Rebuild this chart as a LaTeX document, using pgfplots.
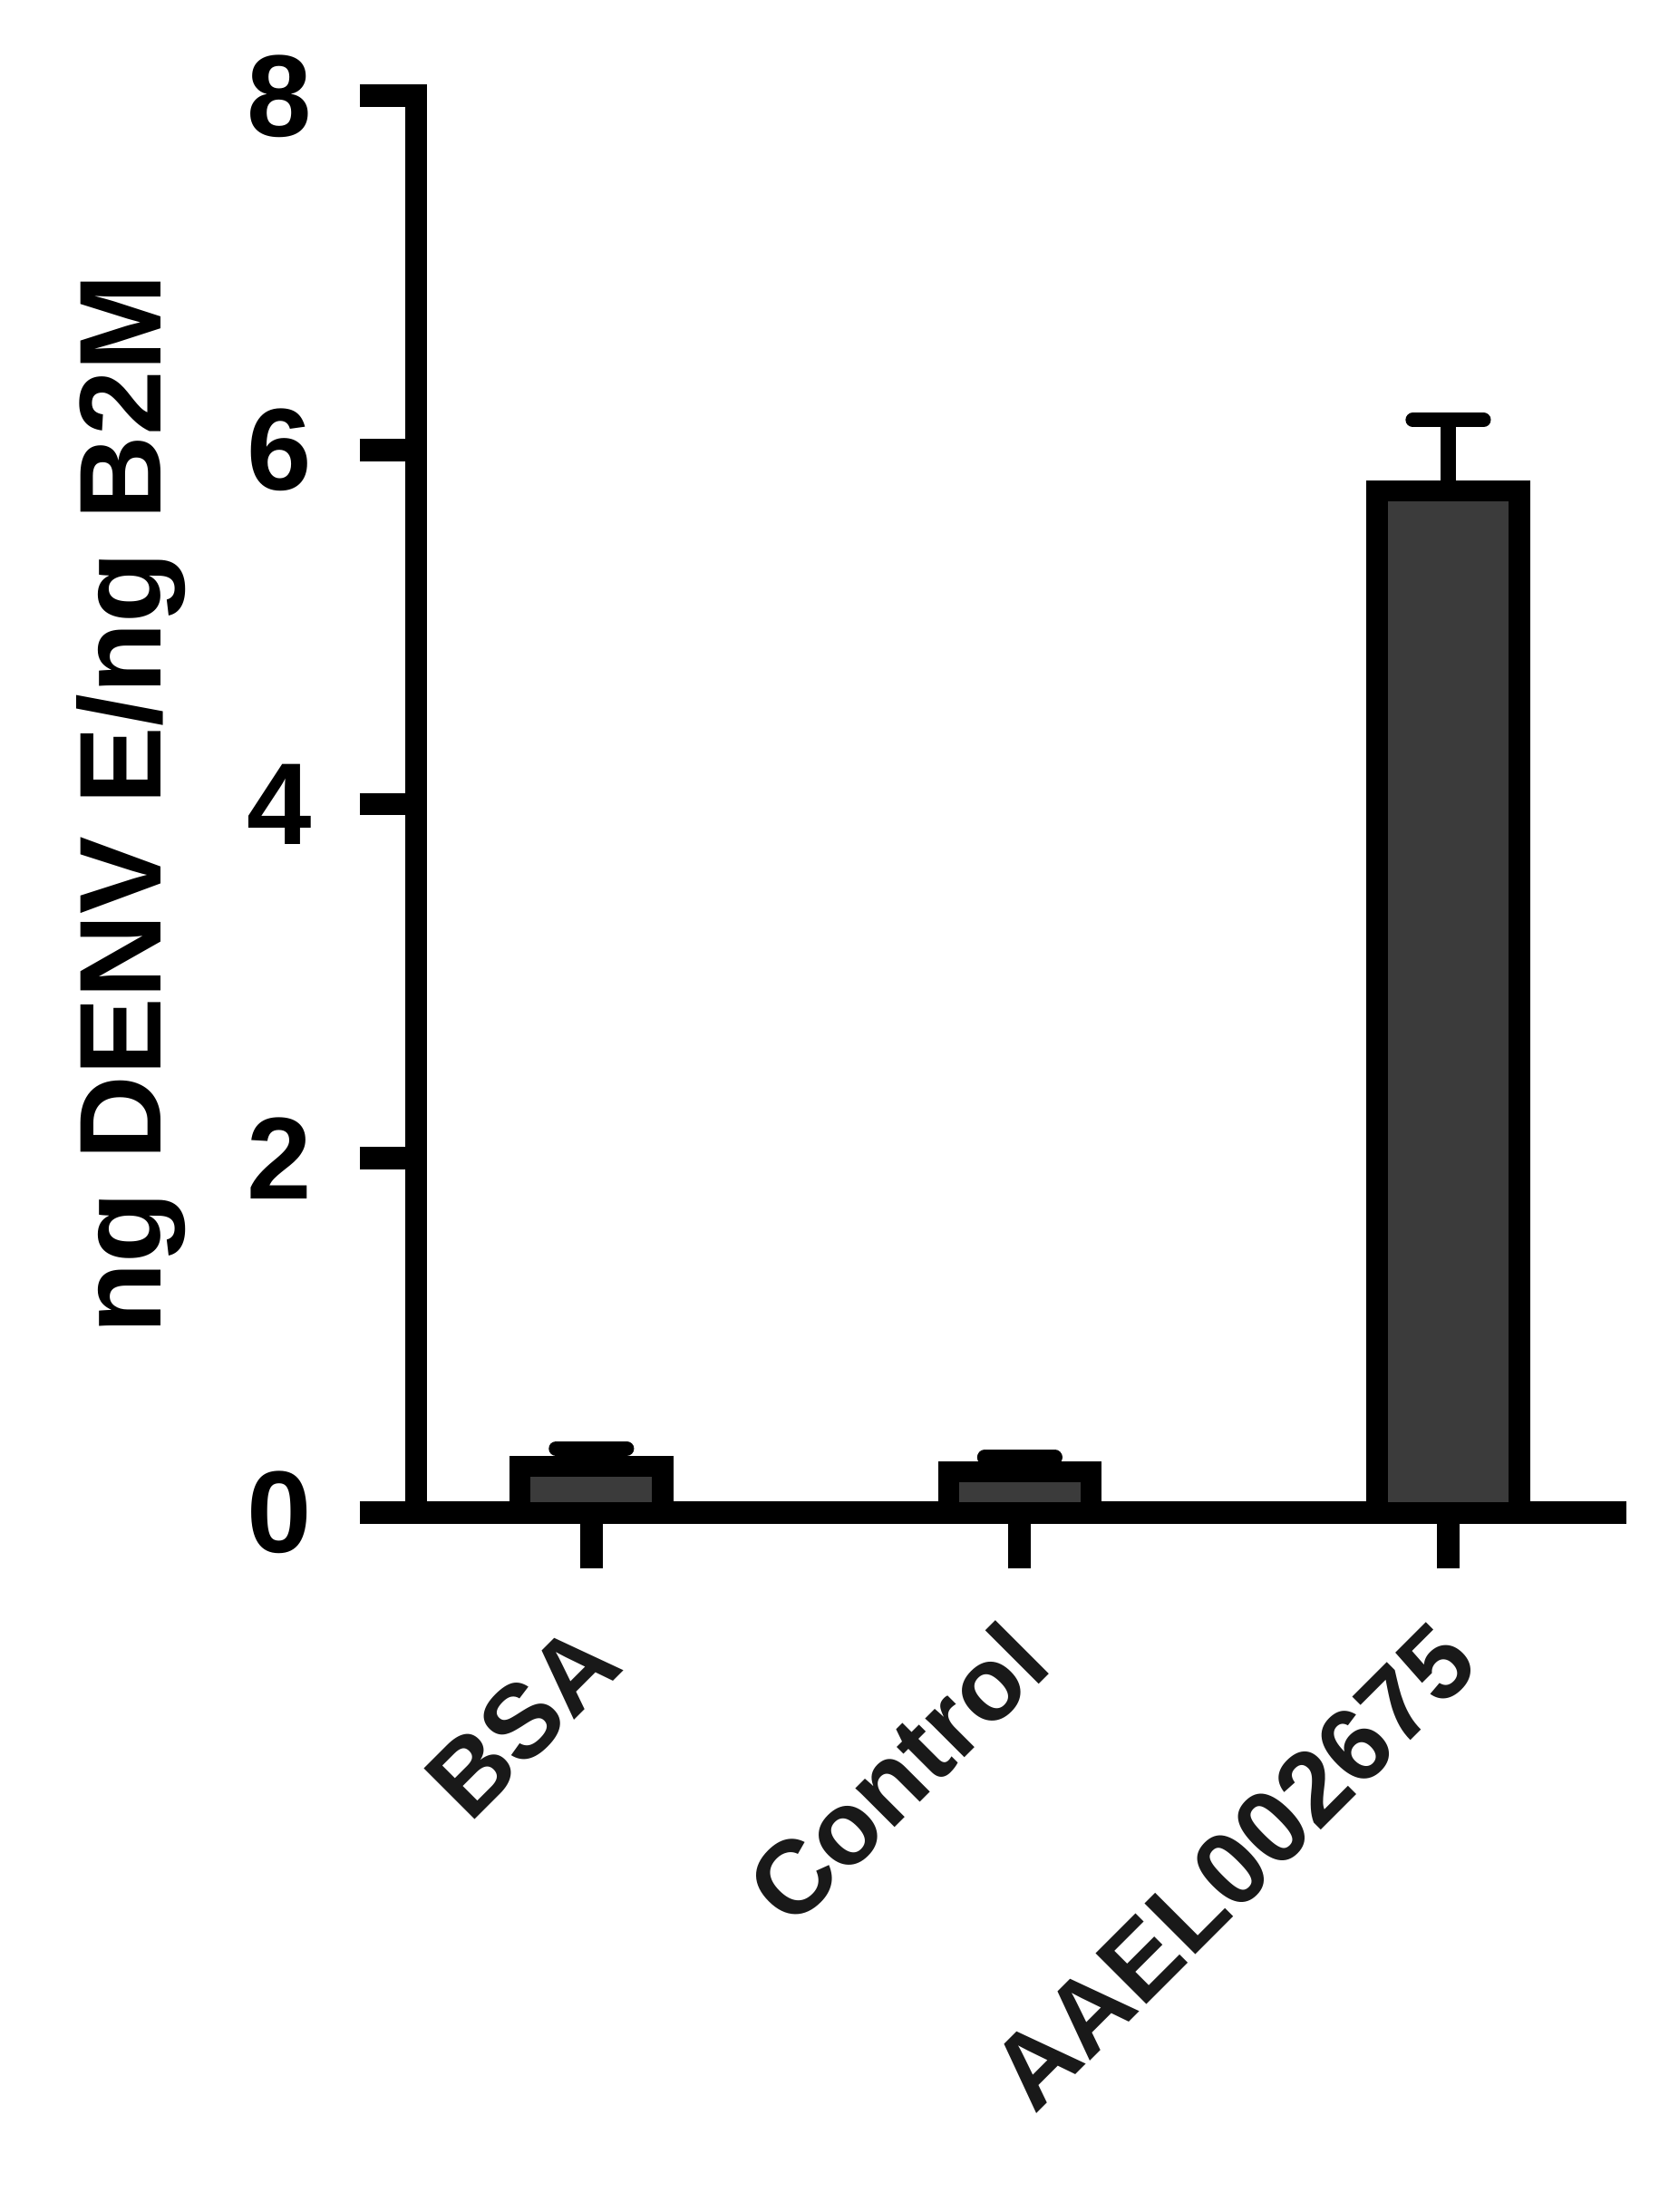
\documentclass[border=0pt]{standalone}
\usepackage{fontspec}
\setmainfont{Liberation Sans}
\usepackage{pgfplots}
\pgfplotsset{compat=1.18}

\begin{document}
\begin{tikzpicture}
\useasboundingbox (-59pt,-99.2pt) rectangle (177.6pt,214.4pt);
\begin{axis}[
  at={(0,0)},anchor=south west,
  scale only axis,width=170pt,height=200.8pt,
  xmin=-0.409,xmax=2.39,ymin=0,ymax=8,
  axis x line=bottom,axis y line=left,
  axis line style={-,line width=3.2pt,line cap=rect},
  tick align=outside,major tick length=8pt,
  major tick style={black,line width=3.2pt},
  xtick={0,1,2},xticklabels={BSA,Control,AAEL002675},
  ytick={0,2,4,6,8},
  yticklabel style={font=\fontsize{16.5}{18}\selectfont\bfseries,inner sep=0pt,xshift=-6.6pt},
  /pgf/number format/assume math mode=true,
  xticklabel style={font=\fontsize{14.8}{17}\selectfont\bfseries,
    xshift=5pt,yshift=-14pt,rotate=45,anchor=base east,inner sep=0pt,text=black!90},
  ylabel={ng DENV E/ng B2M},
  ylabel style={font=\fontsize{16.5}{18}\selectfont\bfseries,
    at={(axis description cs:-0.213,0.5)},anchor=base,inner sep=0pt},
  clip=false
]
\addplot[ybar,bar width=20.2pt,fill=black!77,draw=black,line width=3pt,
  error bars/.cd,y dir=plus,y explicit,
  error bar style={line width=2.1pt,black},
  error mark options={rotate=90,line width=2.1pt,mark size=5pt,black,line cap=round}]
  coordinates {(0,0.26) +- (0,0.10) (1,0.23) +- (0,0.08) (2,5.77) +- (0,0.40)};
\end{axis}
\end{tikzpicture}
\end{document}
